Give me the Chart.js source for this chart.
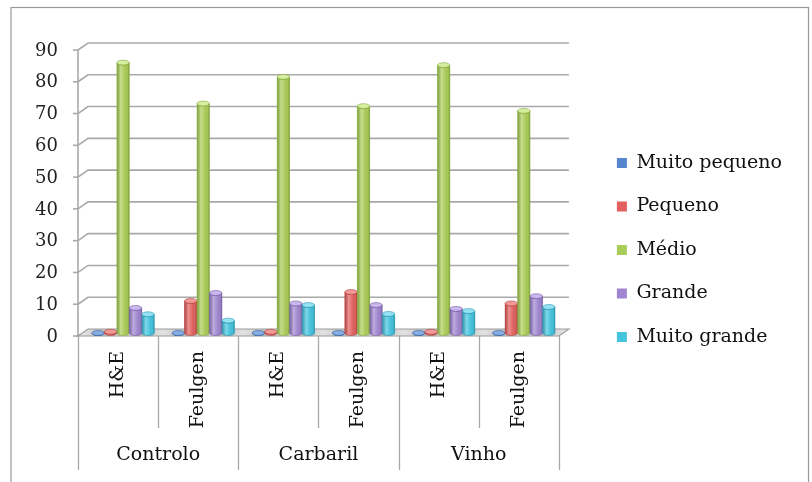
<!DOCTYPE html>
<html>
<head>
<meta charset="utf-8">
<script src="https://cdn.jsdelivr.net/npm/chart.js@4"></script>
<style>
  html, body { margin: 0; padding: 0; background: #fff; }
  #wrap { width: 812px; height: 482px; }
</style>
</head>
<body>
<div id="wrap"><canvas id="c" width="812" height="482"></canvas></div>
<script>
// Stain per column, grouped by treatment
const stains = ['H&E', 'Feulgen', 'H&E', 'Feulgen', 'H&E', 'Feulgen'];
const groups = ['Controlo', 'Carbaril', 'Vinho'];

// Size classes (series)
const seriesNames = ['Muito pequeno', 'Pequeno', 'Médio', 'Grande', 'Muito grande'];

// Percentage of nuclei per size class
const muitoPequeno = [0, 0, 0, 0, 0, 0];
const pequeno      = [0.4, 10.1, 0.4, 12.9, 0.4, 9.3];
const medio        = [85.1, 72.2, 80.6, 71.4, 84.3, 69.9];
const grande       = [7.9, 12.6, 9.3, 8.8, 7.6, 11.6];
const muitoGrande  = [5.9, 3.9, 8.8, 6.0, 6.9, 8.2];

// Value axis ticks
const yTicks = [0, 10, 20, 30, 40, 50, 60, 70, 80, 90];

// Cylinder colours: base, dark edge, light cap
const palette = [
  { base: '#5586cc', dark: '#365e9c', light: '#86aee4' },
  { base: '#e2605e', dark: '#b0403e', light: '#f29a98' },
  { base: '#a9cd58', dark: '#84a63c', light: '#d6eea0' },
  { base: '#a086d0', dark: '#7658a8', light: '#c9b8ec' },
  { base: '#45c4de', dark: '#2894b0', light: '#94e2f2' }
];

const seriesValues = [muitoPequeno, pequeno, medio, grande, muitoGrande];
const FONT = 'DejaVu Serif';

// 3D look: front face offset and back wall offset relative to bar plane
const FRONT = { dx: -5, dy: 3 };
const BACK  = { dx: 5,  dy: -4 };
const GRID_COLOR = '#a9a9a9';

const depthPlugin = {
  id: 'depth',
  beforeDraw(chart) {
    const ctx = chart.ctx;
    ctx.save();
    ctx.fillStyle = '#fff';
    ctx.fillRect(0, 0, chart.width, chart.height);
    ctx.strokeStyle = '#9a9a9a';
    ctx.lineWidth = 1.2;
    ctx.strokeRect(11, 7.5, 797.5, 500);
    ctx.restore();
  },
  beforeDatasetsDraw(chart) {
    const ctx = chart.ctx;
    const y = chart.scales.y;
    const { left, right } = chart.chartArea;
    ctx.save();
    ctx.strokeStyle = GRID_COLOR;
    ctx.lineWidth = 1.6;
    // back wall gridlines with the diagonal link to the front axis
    yTicks.forEach(v => {
      const py = y.getPixelForValue(v);
      const fy = py + FRONT.dy, by = py + BACK.dy;
      ctx.beginPath();
      ctx.moveTo(left + FRONT.dx - 5, fy);
      ctx.lineTo(left + FRONT.dx, fy);
      ctx.stroke();
      if (v > 0) {
        ctx.beginPath();
        ctx.moveTo(left + FRONT.dx, fy);
        ctx.lineTo(left + BACK.dx, by);
        ctx.lineTo(right + BACK.dx, by);
        ctx.stroke();
      }
    });
    // front value axis
    ctx.beginPath();
    ctx.moveTo(left + FRONT.dx, y.getPixelForValue(yTicks[yTicks.length - 1]) + FRONT.dy);
    ctx.lineTo(left + FRONT.dx, y.getPixelForValue(0) + FRONT.dy);
    ctx.stroke();
    // floor
    const y0 = y.getPixelForValue(0);
    ctx.beginPath();
    ctx.moveTo(left + FRONT.dx, y0 + FRONT.dy);
    ctx.lineTo(right + FRONT.dx, y0 + FRONT.dy);
    ctx.lineTo(right + BACK.dx, y0 + BACK.dy);
    ctx.lineTo(left + BACK.dx, y0 + BACK.dy);
    ctx.closePath();
    const g = ctx.createLinearGradient(left, 0, right, 0);
    for (let i = 0; i <= 24; i++) {
      g.addColorStop(i / 24, i % 2 ? '#c4c4c4' : '#e2e2e2');
    }
    ctx.fillStyle = g;
    ctx.fill();
    ctx.lineWidth = 1.2;
    ctx.strokeStyle = '#9c9c9c';
    ctx.stroke();
    ctx.restore();
  },
  afterDatasetsDraw(chart) {
    const ctx = chart.ctx;
    ctx.save();
    chart.data.datasets.forEach((ds, di) => {
      const col = palette[di];
      chart.getDatasetMeta(di).data.forEach(bar => {
        const { x, y: top, base, width: w } = bar.getProps(['x', 'y', 'base', 'width'], true);
        const rx = w / 2, ry = Math.max(2, w * 0.2);
        const l = x - rx, r = x + rx;
        // body
        ctx.beginPath();
        ctx.moveTo(l, top);
        ctx.lineTo(l, base);
        ctx.ellipse(x, base, rx, ry, 0, Math.PI, 0, true);
        ctx.lineTo(r, top);
        ctx.ellipse(x, top, rx, ry, 0, 0, Math.PI, false);
        ctx.closePath();
        ctx.fillStyle = col.base;
        ctx.fill();
        const sh = ctx.createLinearGradient(l, 0, r, 0);
        sh.addColorStop(0, 'rgba(0,0,0,0.18)');
        sh.addColorStop(0.3, 'rgba(255,255,255,0.32)');
        sh.addColorStop(0.55, 'rgba(255,255,255,0.1)');
        sh.addColorStop(0.85, 'rgba(0,0,0,0.03)');
        sh.addColorStop(1, 'rgba(0,0,0,0.22)');
        ctx.fillStyle = sh;
        ctx.fill();
        ctx.strokeStyle = col.dark;
        ctx.lineWidth = 0.6;
        ctx.stroke();
        // cap
        ctx.beginPath();
        ctx.ellipse(x, top, rx, ry, 0, 0, Math.PI * 2);
        ctx.fillStyle = col.light;
        ctx.fill();
        ctx.strokeStyle = col.dark;
        ctx.stroke();
      });
    });
    ctx.restore();
  },
  afterDraw(chart) {
    const ctx = chart.ctx;
    const { left, right } = chart.chartArea;
    const y0 = chart.scales.y.getPixelForValue(0) + FRONT.dy;
    const subBottom = chart.scales.x.bottom;
    const groupBottom = chart.scales.group.bottom - 12;
    const n = stains.length;
    const slot = (right - left) / n;
    ctx.save();
    ctx.strokeStyle = GRID_COLOR;
    ctx.lineWidth = 1.3;
    for (let k = 0; k <= n; k++) {
      const px = Math.round(left + FRONT.dx + k * slot) + 0.5;
      ctx.beginPath();
      ctx.moveTo(px, y0);
      ctx.lineTo(px, k % 2 === 0 ? groupBottom : subBottom);
      ctx.stroke();
    }
    ctx.restore();
  }
};

const hidden = { display: false };

new Chart(document.getElementById('c'), {
  type: 'bar',
  data: {
    labels: stains,
    datasets: seriesNames.map((name, i) => ({
      label: name,
      data: seriesValues[i],
      backgroundColor: palette[i].base,
      borderWidth: 0,
      categoryPercentage: 0.78,
      barPercentage: 0.98
    }))
  },
  options: {
    responsive: false,
    animation: false,
    devicePixelRatio: 1,
    layout: { padding: { top: 18, right: 20, bottom: 0, left: 0 } },
    plugins: {
      tooltip: { enabled: false },
      legend: {
        position: 'right',
        align: 'center',
        maxWidth: 260,
        labels: {
          boxWidth: 10,
          boxHeight: 10,
          padding: 24.5,
          color: '#111',
          font: { family: FONT, size: 19 }
        }
      }
    },
    scales: {
      x: {
        type: 'category',
        position: 'bottom',
        weight: 0,
        offset: true,
        grid: { display: false, drawTicks: false },
        border: hidden,
        ticks: {
          autoSkip: false,
          minRotation: 90,
          maxRotation: 90,
          padding: 18,
          labelOffset: FRONT.dx,
          color: '#111',
          font: { family: FONT, size: 19 }
        },
        afterFit(s) { s.height = 95; }
      },
      group: {
        type: 'category',
        labels: groups,
        position: 'bottom',
        weight: 1,
        offset: true,
        grid: { display: false, drawTicks: false },
        border: hidden,
        ticks: {
          autoSkip: false,
          maxRotation: 0,
          padding: 16,
          labelOffset: FRONT.dx,
          color: '#111',
          font: { family: FONT, size: 19 }
        },
        afterFit(s) { s.height = 54; }
      },
      xPad: {
        type: 'category',
        labels: [''],
        position: 'top',
        grid: hidden,
        border: hidden,
        ticks: hidden,
        afterFit(s) { s.height = 29; }
      },
      y: {
        type: 'linear',
        position: 'left',
        min: yTicks[0],
        max: yTicks[yTicks.length - 1],
        grid: { display: false, drawTicks: false },
        border: hidden,
        ticks: {
          stepSize: 10,
          padding: 25,
          labelOffset: 4,
          color: '#222',
          font: { family: FONT, size: 18 }
        },
        afterFit(s) { s.width = 83; }
      },
      yPad: {
        type: 'linear',
        position: 'right',
        grid: hidden,
        border: hidden,
        ticks: hidden,
        afterFit(s) { s.width = 28.5; }
      }
    }
  },
  plugins: [depthPlugin]
});
</script>
</body>
</html>
